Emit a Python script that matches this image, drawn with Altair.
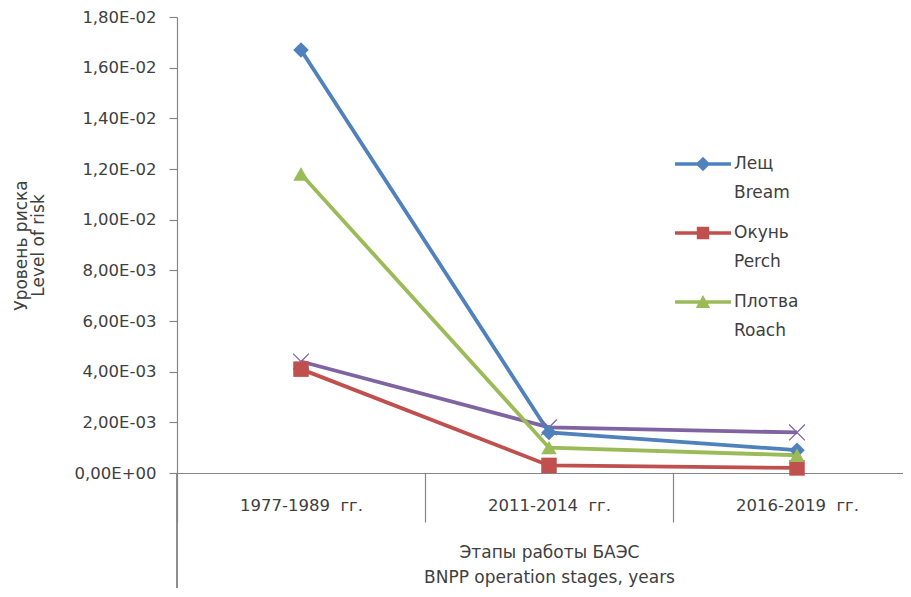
import altair as alt
import pandas as pd

# ---- data ----
stages = ["1977-1989\u00a0 гг.", "2011-2014\u00a0 гг.", "2016-2019\u00a0 гг."]
series_ru = ["Лещ", "Окунь", "Плотва"]
series_en = ["Bream", "Perch", "Roach"]
bream = [0.0167, 0.0016, 0.0009]
perch = [0.0041, 0.0003, 0.0002]
roach = [0.0118, 0.0010, 0.0007]
fourth = [0.0044, 0.0018, 0.0016]   # unlabeled purple series (x markers)
y_ticks = [0, 0.002, 0.004, 0.006, 0.008, 0.010, 0.012, 0.014, 0.016, 0.018]

colors = ["#4F81BD", "#C0504D", "#9BBB59"]
fourth_color = "#8064A2"
FONT = "DejaVu Sans"
TXT = "#404040"
GRAY = "#868686"

rows = []
for name, vals in zip(series_ru, [bream, perch, roach]):
    for s, v in zip(stages, vals):
        rows.append({"stage": s, "series": name, "value": v})
df = pd.DataFrame(rows)
df4 = pd.DataFrame({"stage": stages, "series": "4", "value": fourth})
legend_df = pd.DataFrame({"ru": series_ru, "en": series_en})

y_label_expr = (
    "datum.value < 1e-12 ? '0,00E+00' : "
    "replace(format(datum.value / pow(10, floor(log(datum.value) / LN10 + 1e-9)), '.2f'), '.', ',')"
    " + 'E-0' + (-floor(log(datum.value) / LN10 + 1e-9))"
)

x_enc = alt.X(
    "stage:N",
    scale=alt.Scale(type="band", domain=stages, range=[0, 744], paddingInner=0, paddingOuter=0),
    axis=alt.Axis(
        title=["Этапы работы БАЭС", "BNPP operation stages, years"],
        labelAngle=0, tickBand="extent", tickSize=49, labelPadding=-25,
        titlePadding=22, titleLineHeight=25,
    ),
)
y_enc = alt.Y(
    "value:Q",
    scale=alt.Scale(domain=[0, 0.018], nice=False, zero=True),
    axis=alt.Axis(
        title=["Уровень риска", "Level of risk"], values=y_ticks,
        labelExpr=y_label_expr, tickSize=8, labelPadding=13, titlePadding=27,
        titleLineHeight=17, grid=False,
    ),
)

color_main = alt.Color("series:N", scale=alt.Scale(domain=series_ru, range=colors), legend=None)

line4 = alt.Chart(df4).mark_line(color=fourth_color, strokeWidth=3.8).encode(x=x_enc, y=y_enc)
pts4 = alt.Chart(df4).mark_point(
    shape="M-1,-1L1,1M-1,1L1,-1", filled=False, color=fourth_color, strokeWidth=1.3, size=250, opacity=1
).encode(x=x_enc, y=y_enc)

lines = alt.Chart(df).mark_line(strokeWidth=3.8).encode(x=x_enc, y=y_enc, color=color_main)
pts = alt.Chart(df).mark_point(filled=True, size=240, opacity=1).encode(
    x=x_enc, y=y_enc, color=color_main,
    shape=alt.Shape("series:N", scale=alt.Scale(domain=series_ru, range=["diamond", "square", "triangle-up"]), legend=None),
)

# left category boundary continues down past the labels
left_rule = alt.Chart(df4).mark_rule(color=GRAY, strokeWidth=1.2).encode(
    x=alt.value(0), y=alt.value(456), y2=alt.value(600)
)

line_path = "M-2.8,-0.17H2.8V0.17H-2.8Z"
leg_shapes = [
    line_path + "M0,-0.72L0.72,0L0,0.72L-0.72,0Z",
    line_path + "M-0.62,-0.62H0.62V0.62H-0.62Z",
    line_path + "M0,-0.7L0.72,0.6L-0.72,0.6Z",
]
box_path = "M-2.8,-0.72H2.8V0.72H-2.8Z"

leg_common = dict(title=None, orient="none", legendX=515, padding=0, symbolSize=400,
                  labelOffset=20, rowPadding=50, labelFontSize=17, labelFont=FONT, labelColor=TXT)

legend_ru = alt.Chart(legend_df).transform_filter("datum.ru == 'none'").mark_point(filled=True, opacity=1).encode(
    color=alt.Color("ru:N", scale=alt.Scale(domain=series_ru, range=colors),
                    legend=alt.Legend(legendY=136, **leg_common)),
    shape=alt.Shape("ru:N", scale=alt.Scale(domain=series_ru, range=leg_shapes),
                    legend=alt.Legend(legendY=136, **leg_common)),
)
legend_en = alt.Chart(legend_df).transform_filter("datum.en == 'none'").mark_line().encode(
    strokeDash=alt.StrokeDash("en:N", scale=alt.Scale(domain=series_en),
                              legend=alt.Legend(legendY=165, symbolType=box_path, symbolOpacity=0, **leg_common)),
)

chart = alt.layer(left_rule, line4, lines, pts4, pts, legend_ru, legend_en).resolve_scale(
    color="independent", shape="independent", strokeDash="independent"
).properties(
    width=726, height=456,
    padding={"left": 169, "top": 9, "right": 0, "bottom": 115},
    autosize=alt.AutoSizeParams(type="none"),
).configure_view(stroke=None).configure_axis(
    labelFont=FONT, titleFont=FONT, labelFontSize=16.5, titleFontSize=17,
    labelColor=TXT, titleColor=TXT, titleFontWeight="normal",
    domainColor=GRAY, tickColor=GRAY, domainWidth=1.2, tickWidth=1.2,
)

chart.save("out.html", embed_options={"renderer": "svg", "actions": False})
